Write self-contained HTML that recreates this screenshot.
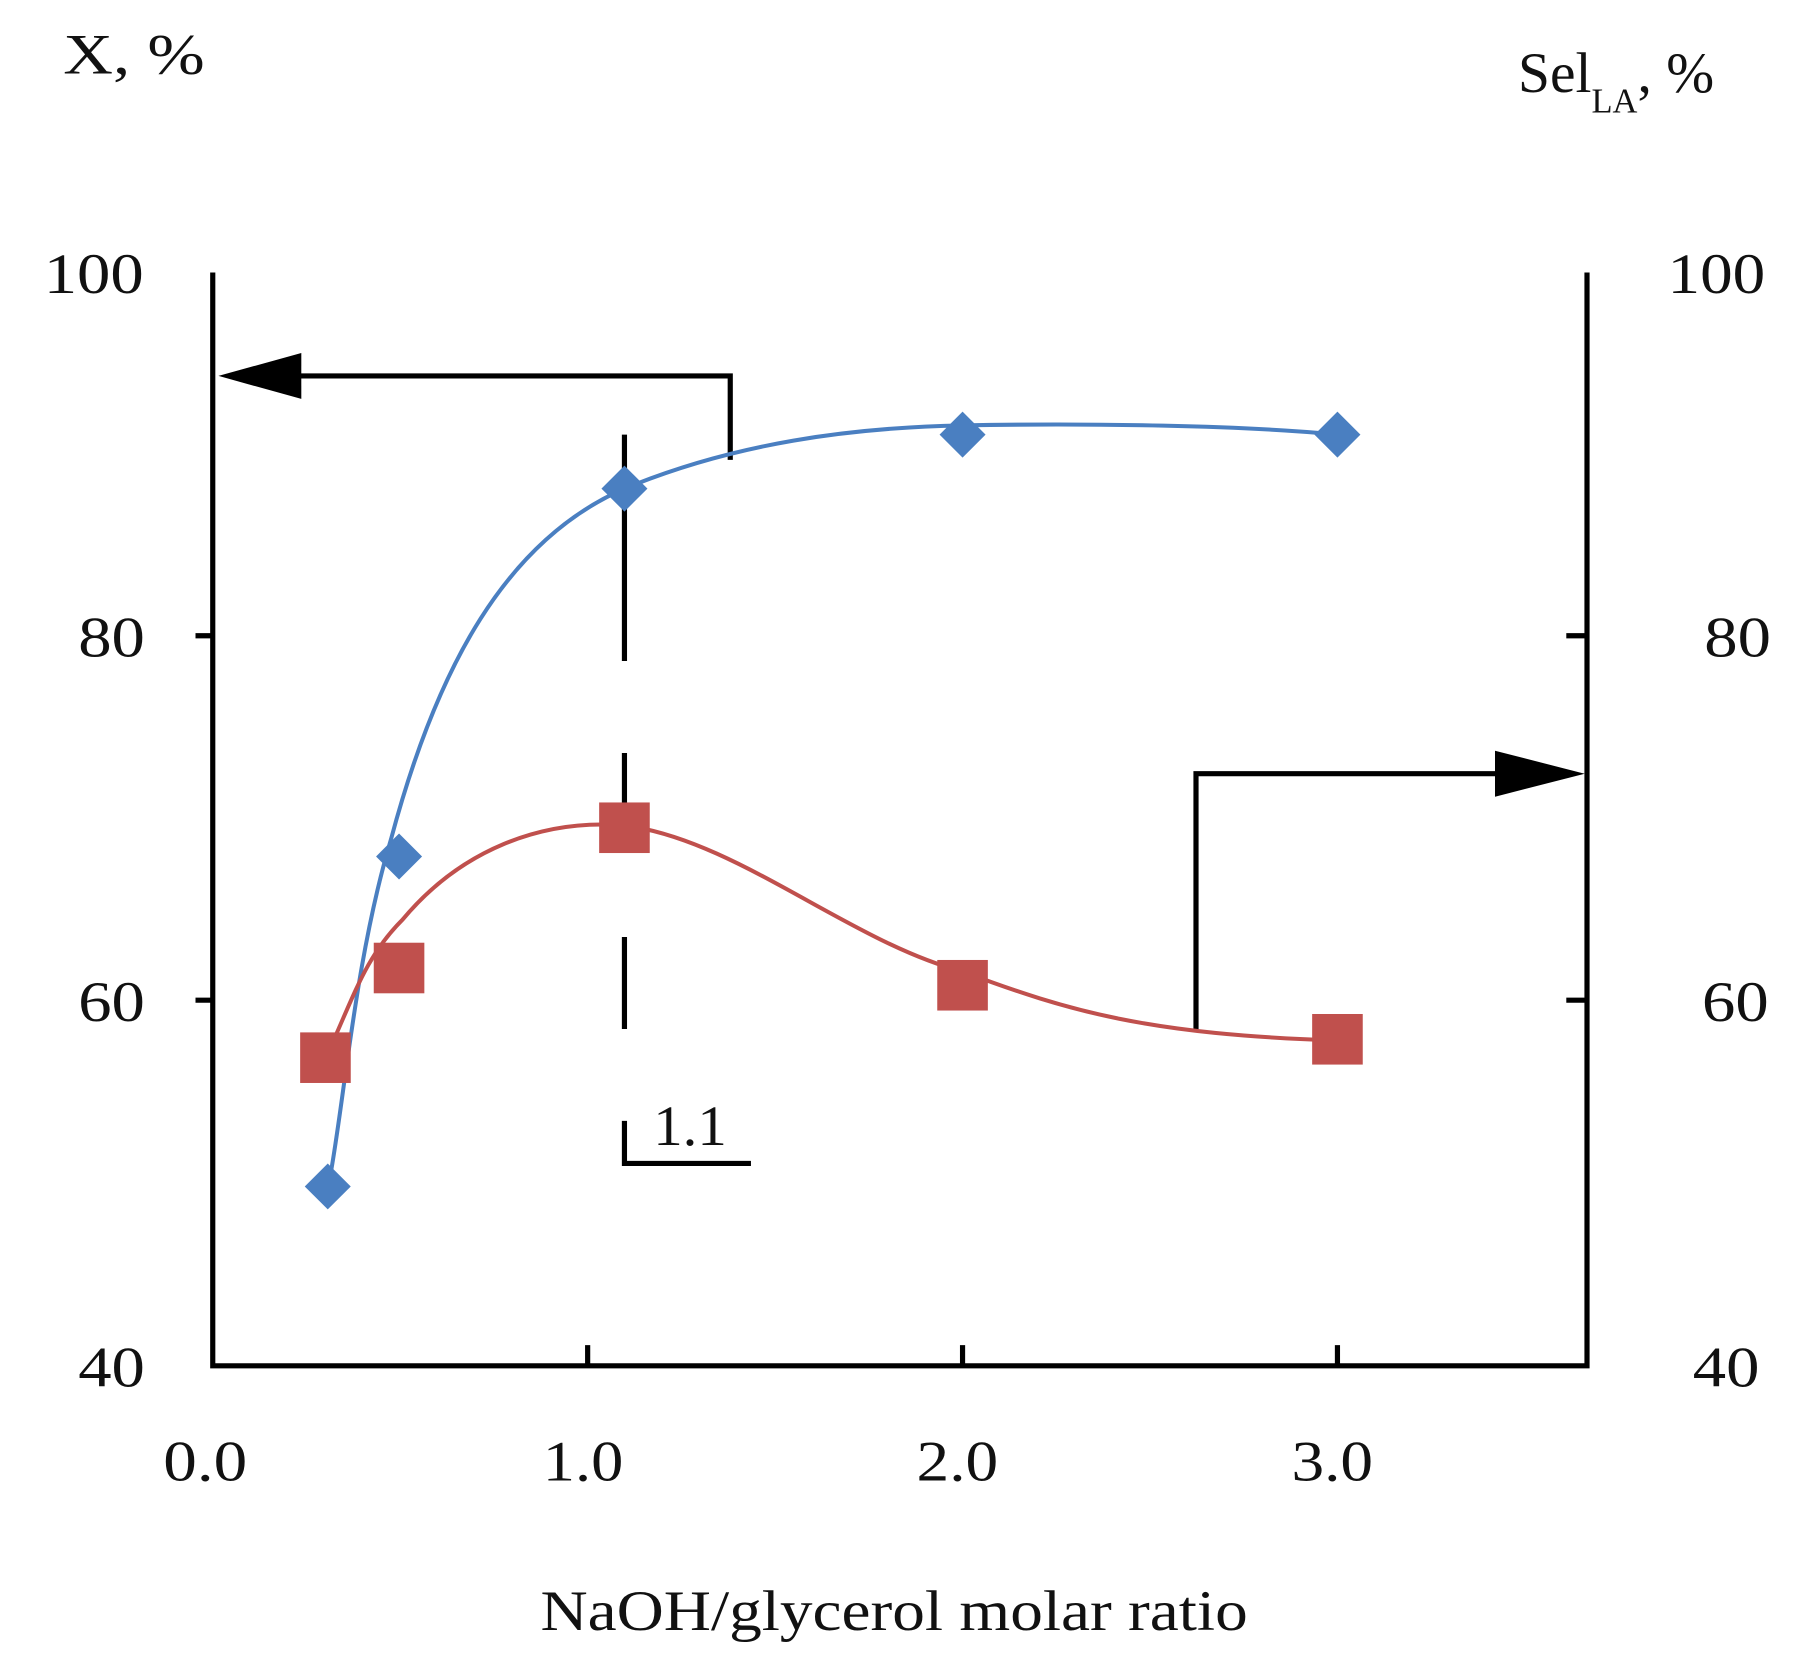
<!DOCTYPE html>
<html><head><style>html,body{margin:0;padding:0;background:#fff}svg{display:block}</style></head>
<body>
<svg width="1794" height="1667" viewBox="0 0 1560 1450" preserveAspectRatio="none" xmlns="http://www.w3.org/2000/svg" font-family="Liberation Serif, serif">
<rect width="1560" height="1450" fill="#fff"/>
<g stroke="#000" stroke-width="4.5" fill="none">
<path d="M185,237 V1188 H1380 V237"/>
<path d="M170,553 H185 M170,870 H185 M1362,553 H1380 M1362,870 H1380 M511,1188 V1170 M837,1188 V1170 M1163,1188 V1170"/>
<path d="M635,400 V327 H240"/>
<path d="M1040,897 V673 H1310"/>
<path d="M543,378 V575 M543,655 V738 M543,815 V895"/>
<path d="M543,975 V1012 H653"/>
</g>
<polygon points="190,327 262,307 262,347" fill="#000"/>
<polygon points="1378,673 1300,653 1300,693" fill="#000"/>
<path d="M288,1018 C300,950 310,830 340,730 C380,580 440,470 543,425 C640,385 740,372 837,370 C950,368 1080,370 1163,378" stroke="#4a7fc1" stroke-width="3.5" fill="none"/>
<path d="M290,905 C310,860 320,830 350,800 C400,740 470,712 543,718 C640,730 740,820 837,845 C930,880 1000,900 1163,905" stroke="#c0504d" stroke-width="3.5" fill="none"/>
<g fill="#4a7fc1">
<polygon points="285,1012 305,1032 285,1052 265,1032"/>
<polygon points="347,725 367,745 347,765 327,745"/>
<polygon points="543,405 563,425 543,445 523,425"/>
<polygon points="837,358 857,378 837,398 817,378"/>
<polygon points="1163,358 1183,378 1163,398 1143,378"/>
</g>
<g fill="#c0504d">
<rect x="261" y="898" width="44" height="44"/>
<rect x="325" y="820" width="44" height="44"/>
<rect x="521" y="698" width="44" height="44"/>
<rect x="815" y="835" width="44" height="44"/>
<rect x="1141" y="882" width="44" height="44"/>
</g>
<g font-size="50" fill="#111" lengthAdjust="spacingAndGlyphs">
<text x="38" y="255" textLength="87" lengthAdjust="spacingAndGlyphs">100</text>
<text x="68" y="571" textLength="58" lengthAdjust="spacingAndGlyphs">80</text>
<text x="68" y="888" textLength="58" lengthAdjust="spacingAndGlyphs">60</text>
<text x="68" y="1206" textLength="58" lengthAdjust="spacingAndGlyphs">40</text>
<text x="1450" y="255" textLength="85" lengthAdjust="spacingAndGlyphs">100</text>
<text x="1482" y="571" textLength="58" lengthAdjust="spacingAndGlyphs">80</text>
<text x="1480" y="888" textLength="58" lengthAdjust="spacingAndGlyphs">60</text>
<text x="1472" y="1206" textLength="58" lengthAdjust="spacingAndGlyphs">40</text>
<text x="142" y="1288" textLength="73" lengthAdjust="spacingAndGlyphs">0.0</text>
<text x="472" y="1288" textLength="70" lengthAdjust="spacingAndGlyphs">1.0</text>
<text x="797" y="1288" textLength="71" lengthAdjust="spacingAndGlyphs">2.0</text>
<text x="1123" y="1288" textLength="71" lengthAdjust="spacingAndGlyphs">3.0</text>
<text x="568" y="996" textLength="64" lengthAdjust="spacingAndGlyphs">1.1</text>
<text x="55" y="64" textLength="123" lengthAdjust="spacingAndGlyphs">X, %</text>
<text x="1320" y="80">Sel<tspan font-size="30" dy="18">LA</tspan><tspan dy="-18">, %</tspan></text>
<text x="470" y="1418" textLength="615" lengthAdjust="spacingAndGlyphs">NaOH/glycerol molar ratio</text>
</g>
</svg>
</body></html>
